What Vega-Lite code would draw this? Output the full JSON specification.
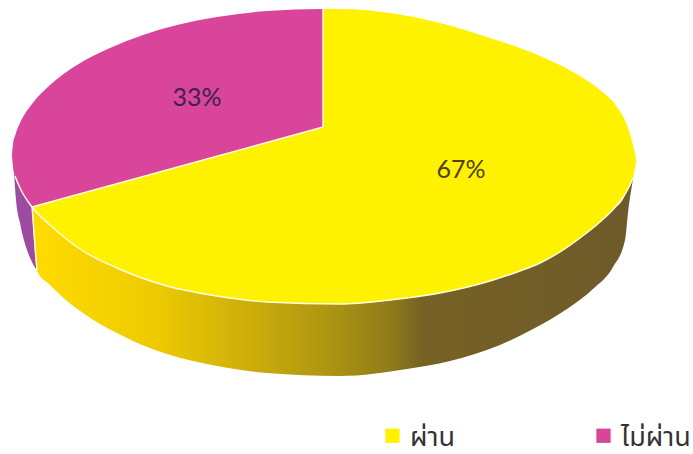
{"$schema":"https://vega.github.io/schema/vega-lite/v6.json","width":693,"height":454,"padding":0,"autosize":"none","background":"white","view":{"stroke":null},
"datasets":{
"side":[{"part":"purple","x":14,"y":170,"y2":172},{"part":"purple","x":16,"y":180,"y2":200},{"part":"purple","x":20,"y":187,"y2":223},{"part":"purple","x":27,"y":199,"y2":250},{"part":"purple","x":32,"y":207,"y2":262},{"part":"purple","x":38,"y":214,"y2":272}],
"front":[{"x":32,"y":207,"y2":208},{"x":37,"y":213,"y2":271},{"x":50,"y":225,"y2":285},{"x":67,"y":239,"y2":301},{"x":83,"y":251,"y2":313},{"x":100,"y":260,"y2":324},{"x":117,"y":268,"y2":333},{"x":133,"y":275,"y2":341},{"x":167,"y":286,"y2":354},{"x":217,"y":296,"y2":366},{"x":267,"y":302,"y2":373},{"x":340,"y":304,"y2":376},{"x":407,"y":298,"y2":369},{"x":450,"y":291,"y2":361},{"x":500,"y":277,"y2":345},{"x":533,"y":266,"y2":329},{"x":567,"y":247,"y2":309},{"x":593,"y":228,"y2":289},{"x":613,"y":210,"y2":267},{"x":625,"y":195,"y2":240},{"x":628,"y":187,"y2":213},{"x":633,"y":178,"y2":179}],
"top":[
{"slice":"ไม่ผ่าน","part":"b","x":12,"y":155,"y2":156},{"slice":"ไม่ผ่าน","part":"b","x":13,"y":144,"y2":167},{"slice":"ไม่ผ่าน","part":"b","x":15,"y":136,"y2":176},{"slice":"ไม่ผ่าน","part":"b","x":20,"y":123,"y2":188},{"slice":"ไม่ผ่าน","part":"b","x":32,"y":104,"y2":207},{"slice":"ไม่ผ่าน","part":"b","x":50,"y":85,"y2":202},{"slice":"ไม่ผ่าน","part":"b","x":77,"y":65,"y2":195},{"slice":"ไม่ผ่าน","part":"b","x":110,"y":48,"y2":186},{"slice":"ไม่ผ่าน","part":"b","x":143,"y":35,"y2":177},{"slice":"ไม่ผ่าน","part":"b","x":177,"y":25,"y2":167},{"slice":"ไม่ผ่าน","part":"b","x":217,"y":17,"y2":156},{"slice":"ไม่ผ่าน","part":"b","x":267,"y":11,"y2":143},{"slice":"ไม่ผ่าน","part":"b","x":323,"y":9,"y2":127},
{"slice":"ผ่าน","part":"a1","x":32,"y":207,"y2":207},{"slice":"ผ่าน","part":"a1","x":50,"y":202,"y2":225},{"slice":"ผ่าน","part":"a1","x":83,"y":193,"y2":251},{"slice":"ผ่าน","part":"a1","x":117,"y":184,"y2":268},{"slice":"ผ่าน","part":"a1","x":167,"y":170,"y2":286},{"slice":"ผ่าน","part":"a1","x":217,"y":156,"y2":296},{"slice":"ผ่าน","part":"a1","x":267,"y":143,"y2":302},{"slice":"ผ่าน","part":"a1","x":323,"y":127,"y2":304},
{"slice":"ผ่าน","part":"a2","x":323,"y":9,"y2":304},{"slice":"ผ่าน","part":"a2","x":340,"y":9,"y2":304},{"slice":"ผ่าน","part":"a2","x":390,"y":13,"y2":300},{"slice":"ผ่าน","part":"a2","x":440,"y":23,"y2":293},{"slice":"ผ่าน","part":"a2","x":490,"y":38,"y2":281},{"slice":"ผ่าน","part":"a2","x":520,"y":48,"y2":271},{"slice":"ผ่าน","part":"a2","x":540,"y":56,"y2":263},{"slice":"ผ่าน","part":"a2","x":560,"y":65,"y2":252},{"slice":"ผ่าน","part":"a2","x":580,"y":76,"y2":238},{"slice":"ผ่าน","part":"a2","x":600,"y":90,"y2":222},{"slice":"ผ่าน","part":"a2","x":617,"y":107,"y2":205},{"slice":"ผ่าน","part":"a2","x":627,"y":125,"y2":191},{"slice":"ผ่าน","part":"a2","x":633,"y":145,"y2":178},{"slice":"ผ่าน","part":"a2","x":636,"y":158,"y2":162}],
"edges":[
{"edge":"rim","x":15,"y":176},{"edge":"rim","x":20,"y":188},{"edge":"rim","x":32,"y":207},{"edge":"rim","x":50,"y":225},{"edge":"rim","x":83,"y":251},{"edge":"rim","x":117,"y":268},{"edge":"rim","x":167,"y":286},{"edge":"rim","x":217,"y":296},{"edge":"rim","x":267,"y":302},{"edge":"rim","x":340,"y":304},{"edge":"rim","x":390,"y":300},{"edge":"rim","x":440,"y":293},{"edge":"rim","x":490,"y":281},{"edge":"rim","x":520,"y":271},{"edge":"rim","x":540,"y":263},{"edge":"rim","x":560,"y":252},{"edge":"rim","x":580,"y":238},{"edge":"rim","x":600,"y":222},{"edge":"rim","x":617,"y":205},{"edge":"rim","x":627,"y":191},{"edge":"rim","x":633,"y":178},
{"edge":"cut1","x":32,"y":207},{"edge":"cut1","x":323,"y":127},
{"edge":"cut2","x":323,"y":9},{"edge":"cut2","x":323,"y":127},
{"edge":"cut3","x":32,"y":207},{"edge":"cut3","x":37,"y":271}],
"labels":[{"text":"33%","x":197,"y":98,"tone":"a"},{"text":"67%","x":461,"y":170,"tone":"b"}]
},
"layer":[
{"data":{"name":"side"},"mark":{"type":"area","color":"#9c4ba0","interpolate":"monotone"},"encoding":{"x":{"field":"x","type":"quantitative","scale":{"domain":[0,693],"nice":false,"zero":false},"axis":null},"y":{"field":"y","type":"quantitative","scale":{"domain":[454,0],"nice":false,"zero":false},"axis":null},"y2":{"field":"y2"}}},
{"data":{"name":"front"},"mark":{"type":"area","interpolate":"monotone","color":{"gradient":"linear","x1":0,"y1":0,"x2":1,"y2":0,"stops":[{"offset":0,"color":"#ffdc00"},{"offset":0.2,"color":"#eecb00"},{"offset":0.36,"color":"#cdae0a"},{"offset":0.5,"color":"#ac9412"},{"offset":0.6,"color":"#8f7a1a"},{"offset":0.65,"color":"#766224"},{"offset":1,"color":"#6e5a2a"}]}},"encoding":{"x":{"field":"x","type":"quantitative","axis":null},"y":{"field":"y","type":"quantitative","axis":null},"y2":{"field":"y2"}}},
{"data":{"name":"top"},"mark":{"type":"area","interpolate":"monotone"},"encoding":{"x":{"field":"x","type":"quantitative","axis":null},"y":{"field":"y","type":"quantitative","axis":null},"y2":{"field":"y2"},"detail":{"field":"part"},"color":{"field":"slice","type":"nominal","scale":{"domain":["ผ่าน","ไม่ผ่าน"],"range":["#fff200","#d9459b"]},"legend":{"orient":"none","legendX":379,"legendY":422,"direction":"horizontal","columns":2,"title":null,"symbolType":"square","symbolSize":205,"symbolStrokeWidth":0,"labelFontSize":27,"labelFont":"Noto Sans Thai, Noto Sans, DejaVu Sans","labelColor":"#333333","labelLimit":120,"labelOffset":4,"columnPadding":134,"encode":{"labels":{"update":{"dy":{"value":2}}}}}}}},
{"data":{"name":"edges"},"mark":{"type":"line","color":"#fffde0","strokeWidth":1.4,"interpolate":"monotone"},"encoding":{"x":{"field":"x","type":"quantitative","axis":null},"y":{"field":"y","type":"quantitative","axis":null},"detail":{"field":"edge"}}},
{"data":{"name":"labels"},"mark":{"type":"text","font":"Lato","fontSize":25},"encoding":{"x":{"field":"x","type":"quantitative","axis":null},"y":{"field":"y","type":"quantitative","axis":null},"text":{"field":"text"},"color":{"field":"tone","type":"nominal","scale":{"domain":["a","b"],"range":["#40204f","#4f3f10"]},"legend":null}}}
],
"resolve":{"scale":{"color":"independent"}}}
